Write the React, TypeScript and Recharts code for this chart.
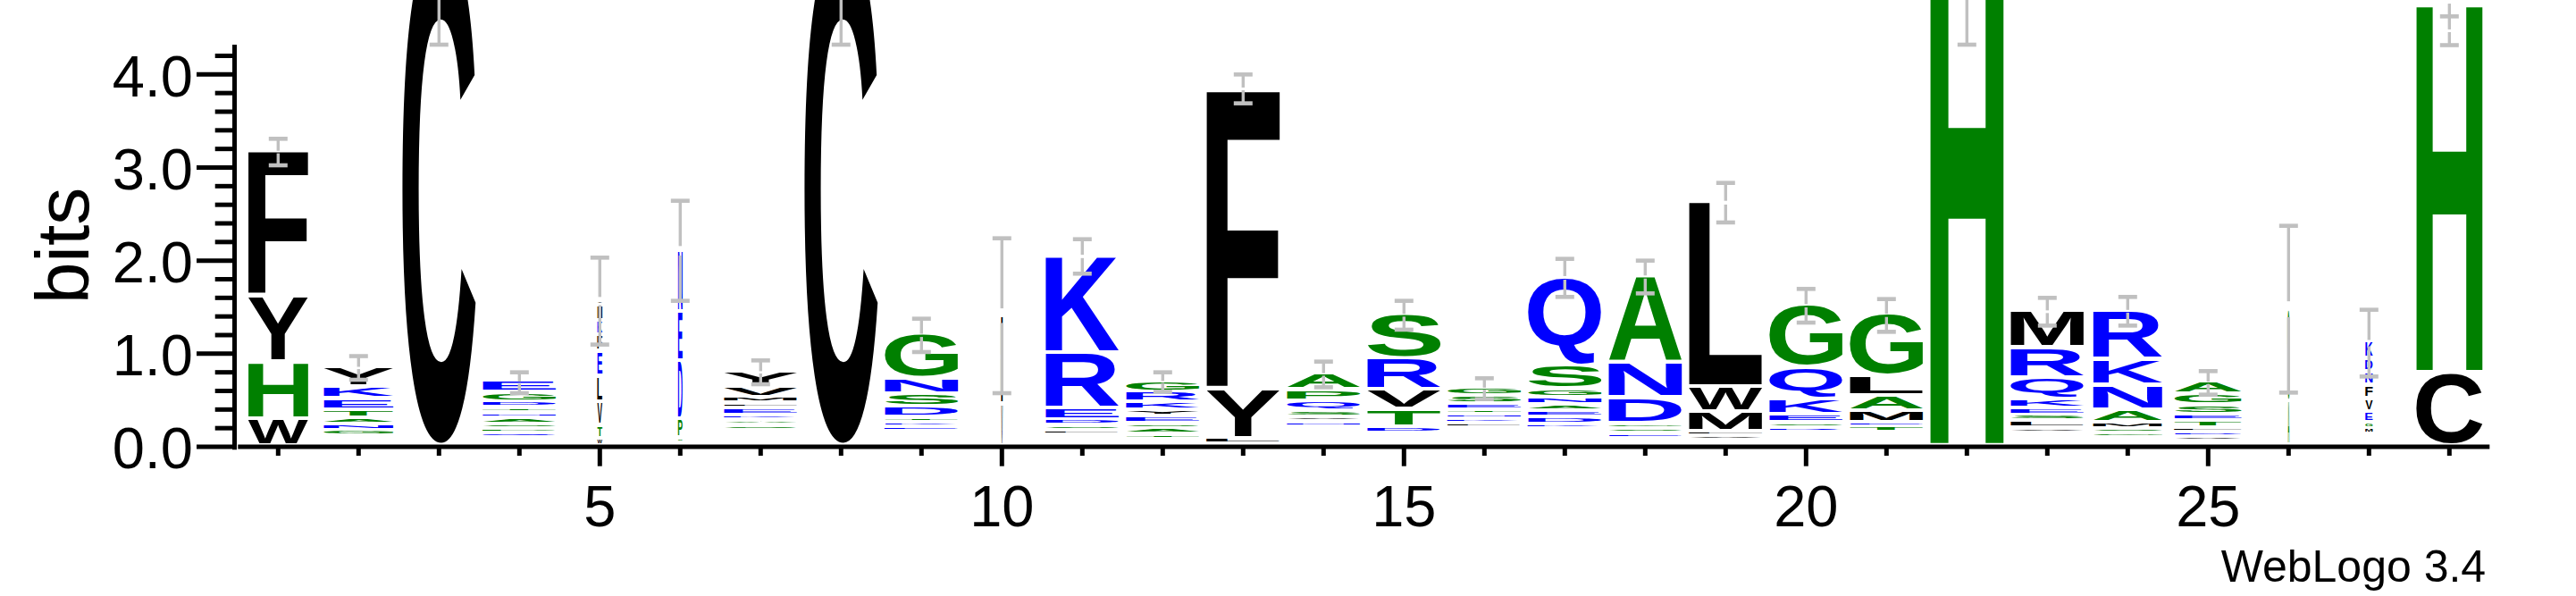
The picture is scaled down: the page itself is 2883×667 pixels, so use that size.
import React from "react";
import { BarChart, Bar, XAxis, YAxis, ReferenceLine } from "recharts";

// ---------- data ----------
const positions = [1, 2, 3, 4, 5, 6, 7, 8, 9, 10, 11, 12, 13, 14, 15, 16, 17, 18, 19, 20, 21, 22, 23, 24, 25, 26, 27, 28];

// fraction of non-gap sequences (stack width scale)
const occupancy = [0.817, 0.95, 1, 1, 0.067, 0.061, 1, 1, 1, 0.012, 1, 1, 1, 1, 1, 1, 1, 1, 1, 1, 1, 1, 1, 0.943, 0.915, 0.012, 0.1, 0.902];

// letters of each stack, bottom -> top
const stackLetters = [
  "WHYF",
  "QDSGNATEKY",
  "C",
  "WMQPSANTDGE",
  "WTVLEFKIY",
  "ASPDEN",
  "GDNRQSAKELMVY",
  "C",
  "RQAPEKTDSNG",
  "VLF",
  "QNTLSDERK",
  "NDTASEYKRG",
  "WLYF",
  "EGTKDNVSQPA",
  "ENAQDTVRS",
  "PQDAVLKNTESG",
  "HPTWRKDEANGSQ",
  "QTESGDNA",
  "YIVFMWL",
  "TADNRSEKQG",
  "VNDSTEMALG",
  "H",
  "TADNVLSEKQRM",
  "DEGSMANKR",
  "QNVDLTESGA",
  "ASG",
  "YTLIMGEVFNDK",
  "CH",
];

// bits of each letter, bottom -> top
const stackBits = [
  [0.288, 0.614, 0.704, 1.562],
  [0.03, 0.035, 0.035, 0.06, 0.07, 0.064, 0.09, 0.118, 0.132, 0.215],
  [5.47],
  [0.04, 0.04, 0.048, 0.048, 0.054, 0.068, 0.054, 0.054, 0.064, 0.1, 0.121],
  [0.071, 0.144, 0.255, 0.278, 0.266, 0.176, 0.154, 0.163, 0.053],
  [0.029, 0.057, 0.197, 0.629, 0.528, 0.662],
  [0.0326, 0.0326, 0.0326, 0.0326, 0.0326, 0.052, 0.057, 0.054, 0.074, 0.058, 0.06, 0.115, 0.167],
  [5.47],
  [0.037, 0.037, 0.037, 0.037, 0.048, 0.05, 0.057, 0.113, 0.14, 0.163, 0.48],
  [0.45, 0.5, 0.45],
  [0.0367, 0.0367, 0.0367, 0.053, 0.057, 0.058, 0.122, 0.598, 1.05],
  [0.032, 0.032, 0.056, 0.062, 0.058, 0.071, 0.07, 0.084, 0.111, 0.118],
  [0.013, 0.064, 0.537, 3.226],
  [0.0385, 0.0385, 0.0385, 0.0385, 0.045, 0.054, 0.051, 0.07, 0.106, 0.12, 0.177],
  [0.0325, 0.0325, 0.0325, 0.0325, 0.07, 0.191, 0.209, 0.336, 0.479],
  [0.036, 0.035, 0.035, 0.035, 0.045, 0.048, 0.048, 0.048, 0.051, 0.067, 0.087, 0.089],
  [0.034, 0.034, 0.034, 0.035, 0.045, 0.048, 0.071, 0.068, 0.07, 0.079, 0.087, 0.249, 0.96],
  [0.039, 0.039, 0.05, 0.054, 0.058, 0.278, 0.369, 0.937],
  [0.025, 0.025, 0.05, 0.051, 0.208, 0.272, 1.993],
  [0.035, 0.035, 0.035, 0.035, 0.05, 0.057, 0.089, 0.167, 0.342, 0.675],
  [0.035, 0.034, 0.034, 0.034, 0.06, 0.05, 0.122, 0.166, 0.208, 0.671],
  [5.72],
  [0.033, 0.033, 0.034, 0.034, 0.058, 0.071, 0.063, 0.074, 0.1, 0.227, 0.326, 0.403],
  [0.043, 0.043, 0.048, 0.048, 0.065, 0.137, 0.269, 0.275, 0.528],
  [0.021, 0.021, 0.05, 0.05, 0.05, 0.071, 0.07, 0.106, 0.118, 0.137],
  [0.472, 0.5, 0.5],
  [0.03, 0.03, 0.03, 0.032, 0.06, 0.065, 0.112, 0.144, 0.144, 0.144, 0.144, 0.185],
  [0.784, 3.977],
];

// error bar ends (bits)
const errLow = [3.024, 0.72, 4.32, 0.576, 1.098, 1.568, 0.672, 4.32, 1.018, 0.576, 1.86, 0.592, 3.69, 0.64, 1.258, 0.512, 1.61, 1.648, 2.41, 1.334, 1.235, 4.32, 1.302, 1.302, 0.56, 0.582, 0.755, 4.315];
const errHigh = [3.309, 0.974, 5.6, 0.8, 2.032, 2.643, 0.928, 5.6, 1.376, 2.24, 2.23, 0.8, 4.0, 0.915, 1.568, 0.736, 2.019, 2.0, 2.835, 1.696, 1.587, 5.6, 1.6, 1.61, 0.813, 2.374, 1.472, 4.624];

const yTicks = [0, 0.2, 0.4, 0.6, 0.8, 1.0, 1.2, 1.4, 1.6, 1.8, 2.0, 2.2, 2.4, 2.6, 2.8, 3.0, 3.2, 3.4, 3.6, 3.8, 4.0, 4.2];
const xTicks = positions;
const labeledXTicks = [5, 10, 15, 20, 25];
const Y_AXIS_TOP = 4.32;
const Y_AXIS_BOTTOM = -0.03;
const Y_AXIS_AT = 0.458;
// the tallest stacks run past the top of the picture, as in the reference
const Y_DOMAIN: [number, number] = [0, 6.72];
const X_DOMAIN: [number, number] = [0.5, 28.5];

// ---------- styling ----------
const FONT = '"Liberation Sans", Arial, Helvetica, sans-serif';
const GLYPH_FONT = "Liberation Sans";
const GLYPH_FS = 200;
const BOTTOM_GAP = 4.3;
const MIN_GLYPH_W = 1.7;
const ERR_COLOR = "#C0C0C0";
const BLUE_SET = "RKDENQ";
const GREEN_SET = "SGHTAP";

function colorOf(ch: string) {
  if (BLUE_SET.includes(ch)) return "#0000FF";
  if (GREEN_SET.includes(ch)) return "#008000";
  return "#000000";
}

type Ink = { l: number; r: number; a: number; d: number };
const inkCache: Record<string, Ink> = {};
function inkMetrics(ch: string): Ink {
  if (inkCache[ch]) return inkCache[ch];
  let m: Ink = { l: -0.05 * GLYPH_FS, r: 0.67 * GLYPH_FS, a: 0.716 * GLYPH_FS, d: 0 };
  try {
    const c = document.createElement("canvas");
    const ctx = c.getContext("2d");
    if (ctx) {
      ctx.font = `bold ${GLYPH_FS}px "${GLYPH_FONT}"`;
      ctx.textBaseline = "alphabetic";
      ctx.textAlign = "left";
      const tm = ctx.measureText(ch);
      if (tm.actualBoundingBoxRight + tm.actualBoundingBoxLeft > 0) {
        m = {
          l: tm.actualBoundingBoxLeft,
          r: tm.actualBoundingBoxRight,
          a: tm.actualBoundingBoxAscent,
          d: tm.actualBoundingBoxDescent,
        };
      }
    }
  } catch (e) {
    // keep fallback metrics
  }
  inkCache[ch] = m;
  return m;
}

const maxLayers = Math.max(...stackLetters.map((s) => s.length));
const layers = Array.from({ length: maxLayers }, (_, k) => k);

const rows = positions.map((pos, i) => {
  const row: any = { pos, occ: occupancy[i], letters: stackLetters[i] };
  let total = 0;
  for (let k = 0; k < maxLayers; k++) {
    const v = stackBits[i][k] ?? 0;
    row[`h${k}`] = v;
    total += v;
  }
  row.total = total;
  row.errLow = errLow[i];
  row.errHigh = errHigh[i];
  row.toErr = errLow[i] - total;
  row.err = errHigh[i] - errLow[i];
  return row;
});

function makeLetterShape(k: number) {
  return (props: any) => {
    const { x, y, width, height, payload } = props;
    const ch = payload && payload.letters ? payload.letters[k] : undefined;
    if (!ch || !(height > 0)) return <g />;
    const gh = height - BOTTOM_GAP;
    if (gh < 0.5) return <g />;
    const gw = Math.max(width * payload.occ, MIN_GLYPH_W);
    const gx = x + (width - gw) / 2;
    const m = inkMetrics(ch);
    const sx = gw / (m.l + m.r);
    const sy = gh / (m.a + m.d);
    return (
      <text
        x={0}
        y={0}
        transform={`translate(${gx + m.l * sx},${y + m.a * sy}) scale(${sx},${sy})`}
        fontFamily={GLYPH_FONT}
        fontWeight="bold"
        fontSize={GLYPH_FS}
        fill={colorOf(ch)}
      >
        {ch}
      </text>
    );
  };
}

function EmptyShape() {
  return <g />;
}

function ErrShape(props: any) {
  const { x, y, width, height, payload } = props;
  if (!(height > 0) || !payload) return <g />;
  const cx = x + width / 2;
  const pxPerBit = height / payload.err;
  const lineTop = y - Math.max(0, payload.total - payload.errHigh) * pxPerBit;
  const lineBottom = y + height + Math.max(0, payload.errLow - payload.total) * pxPerBit;
  const mid = y + height / 2;
  const gap = height * 0.095;
  const half = 10.5;
  return (
    <g>
      <line x1={cx} x2={cx} y1={lineTop} y2={mid - gap / 2} stroke={ERR_COLOR} strokeWidth={3.4} />
      <line x1={cx} x2={cx} y1={mid + gap / 2} y2={lineBottom} stroke={ERR_COLOR} strokeWidth={3.4} />
      <line x1={cx - half} x2={cx + half} y1={y} y2={y} stroke={ERR_COLOR} strokeWidth={4.6} />
      <line x1={cx - half} x2={cx + half} y1={y + height} y2={y + height} stroke={ERR_COLOR} strokeWidth={4.6} />
    </g>
  );
}

function YTick(props: any) {
  const { x, y, payload } = props;
  const v = payload.value as number;
  const major = Math.abs(v - Math.round(v)) < 1e-6;
  const right = x - 3;
  return (
    <g>
      <line x1={right - (major ? 43.3 : 22.6)} x2={right} y1={y} y2={y} stroke="#000" strokeWidth={5} />
      {major && (
        <text x={x - 50.3} y={y + 24.2} textAnchor="end" fontFamily={FONT} fontSize={65} fill="#000">
          {v.toFixed(1)}
        </text>
      )}
    </g>
  );
}

function XTick(props: any) {
  const { x, y, payload } = props;
  const v = payload.value as number;
  const major = labeledXTicks.includes(v);
  return (
    <g>
      <line x1={x} x2={x} y1={y} y2={y + (major ? 21.7 : 10)} stroke="#000" strokeWidth={5} />
      {major && (
        <text x={x} y={y + 88.5} textAnchor="middle" fontFamily={FONT} fontSize={65} fill="#000">
          {v}
        </text>
      )}
    </g>
  );
}

function BitsLabel() {
  return (
    <text
      transform="translate(99.3,275) rotate(-90)"
      textAnchor="middle"
      fontFamily={FONT}
      fontSize={84}
      fill="#000"
    >
      bits
    </text>
  );
}

function CreditLabel() {
  return (
    <text x={2782.2} y={650.7} textAnchor="end" fontFamily={FONT} fontSize={50} fill="#000">
      WebLogo 3.4
    </text>
  );
}

export default function App() {
  return (
    <div style={{ position: "absolute", left: 0, top: 0, width: 2883, height: 667, overflow: "hidden", background: "#fff" }}>
      <BarChart
        width={2883}
        height={667}
        data={rows}
        margin={{ top: -200, right: 96.7, bottom: 67, left: 206.3 }}
        barSize={82}
      >
        <XAxis
          type="number"
          dataKey="pos"
          domain={X_DOMAIN}
          ticks={xTicks}
          interval={0}
          height={100}
          tickSize={0}
          tickMargin={0}
          tickLine={false}
          axisLine={{ stroke: "#000", strokeWidth: 5 }}
          tick={<XTick />}
          label={() => <CreditLabel />}
        />
        <YAxis
          type="number"
          domain={Y_DOMAIN}
          allowDataOverflow
          ticks={yTicks}
          interval={0}
          width={60}
          tickSize={0}
          tickMargin={0}
          tickLine={false}
          axisLine={false}
          tick={<YTick />}
          label={() => <BitsLabel />}
        />
        {layers.map((k) => (
          <Bar
            key={k}
            dataKey={`h${k}`}
            stackId="logo"
            isAnimationActive={false}
            shape={makeLetterShape(k)}
          />
        ))}
        <Bar dataKey="toErr" stackId="logo" isAnimationActive={false} shape={EmptyShape} />
        <Bar dataKey="err" stackId="logo" isAnimationActive={false} shape={ErrShape} />
        <ReferenceLine
          segment={[
            { x: Y_AXIS_AT, y: Y_AXIS_BOTTOM },
            { x: Y_AXIS_AT, y: Y_AXIS_TOP },
          ]}
          stroke="#000"
          strokeWidth={5}
          ifOverflow="visible"
        />
      </BarChart>
    </div>
  );
}
